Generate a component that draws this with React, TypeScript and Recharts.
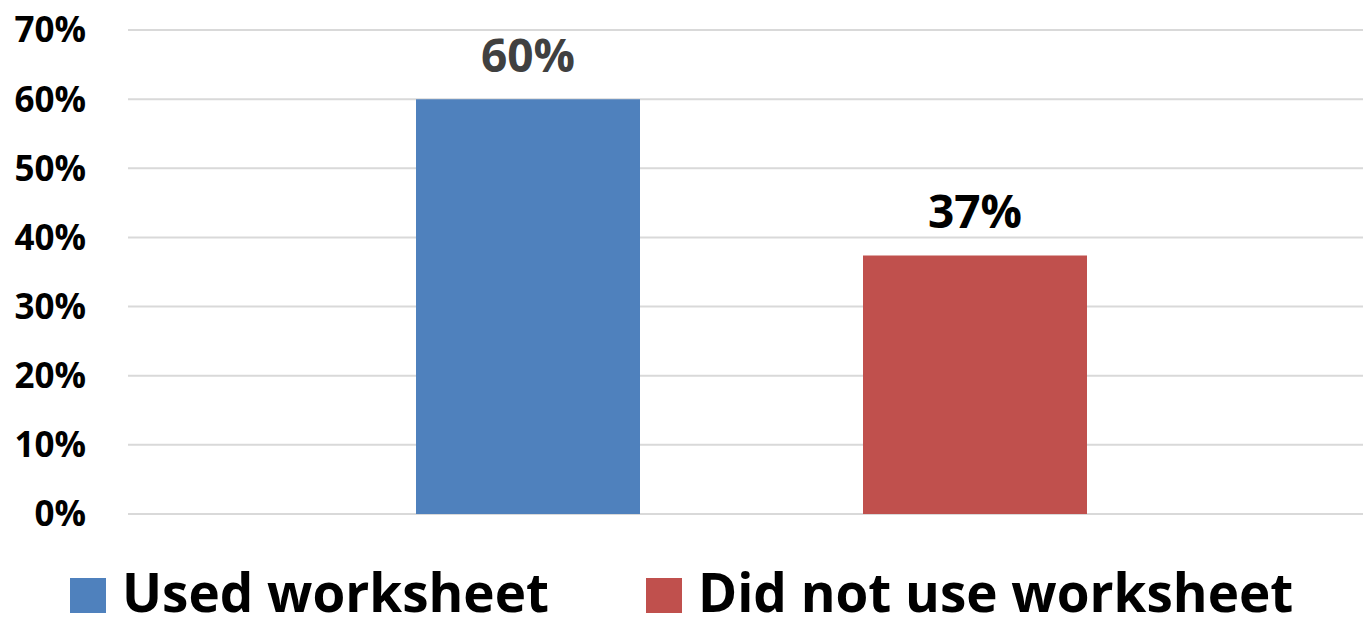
import React from 'react';
import { BarChart, Bar, XAxis, YAxis, CartesianGrid, LabelList } from 'recharts';

// Chart values
const categories = [''];
const usedWorksheet = [0.6];
const didNotUseWorksheet = [0.374];
const yTicks = [0, 0.1, 0.2, 0.3, 0.4, 0.5, 0.6, 0.7];

const SERIES = [
  { key: 'used', name: 'Used worksheet', color: '#4F81BD', labelColor: '#404040' },
  { key: 'notUsed', name: 'Did not use worksheet', color: '#C0504D', labelColor: '#000000' },
];

const FONT = '"Open Sans", "DejaVu Sans", sans-serif';

const data = categories.map((name, i) => ({
  name,
  used: usedWorksheet[i],
  notUsed: didNotUseWorksheet[i],
}));

const pct = (v: number) => `${Math.round(v * 100)}%`;

export default function App() {
  return (
    <div style={{ position: 'absolute', left: 0, top: 0, width: 1363, height: 617, overflow: 'hidden', fontFamily: FONT }}>
      <BarChart
        width={1363}
        height={617}
        data={data}
        margin={{ top: 30, right: 0, bottom: 103, left: 0 }}
        barSize={224}
        barGap={223}
      >
        <CartesianGrid vertical={false} stroke="#D9D9D9" strokeWidth={2} />
        <XAxis dataKey="name" hide padding={{ left: 12, right: 0 }} />
        <YAxis
          width={128}
          domain={[0, 0.7]}
          ticks={yTicks}
          tickFormatter={pct}
          axisLine={false}
          tickLine={false}
          tickSize={0}
          tickMargin={42}
          tick={{ fill: '#000', fontSize: 35, fontWeight: 700, fontFamily: FONT }}
        />
        {SERIES.map((s) => (
          <Bar key={s.key} dataKey={s.key} name={s.name} fill={s.color} isAnimationActive={false}>
            <LabelList
              dataKey={s.key}
              position="top"
              offset={27}
              formatter={(v: any) => pct(Number(v))}
              style={{ fill: s.labelColor, fontSize: 46, fontWeight: 700, fontFamily: FONT }}
            />
          </Bar>
        ))}
      </BarChart>
      {/* legend row under the plot */}
      <div
        style={{
          position: 'absolute',
          left: 70,
          top: 568,
          height: 48,
          display: 'flex',
          alignItems: 'center',
          fontSize: 53,
          fontWeight: 700,
          color: '#000',
          lineHeight: '48px',
          whiteSpace: 'nowrap',
        }}
      >
        {SERIES.map((s, i) => (
          <div key={s.key} style={{ display: 'flex', alignItems: 'center', marginLeft: i === 0 ? 0 : 97 }}>
            <span style={{ display: 'inline-block', width: 36, height: 35, background: s.color, marginRight: 16, marginTop: 6 }} />
            <span>{s.name}</span>
          </div>
        ))}
      </div>
    </div>
  );
}
